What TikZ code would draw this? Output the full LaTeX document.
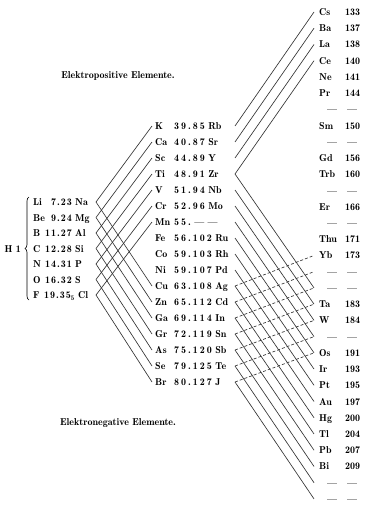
\documentclass[tikz,border=0pt]{standalone}
\usetikzlibrary{decorations.pathreplacing}
\def\spnumA#1{\ifx#1\relax\else#1\kern\spk\relax\expandafter\spnumA\fi}
\newcommand\spnum[2]{\def\spk{#1}\edef\sptmp{#2}\expandafter\spnumA\sptmp\relax\unkern}
\newcommand\dsh{\hspace*{8pt}—}
\newcommand\dshn{\hspace*{2pt}—}
\tikzset{
  el/.style={inner sep=0pt, font=\fontsize{10}{12}\fontseries{b}\selectfont, text height=7pt, text depth=0pt},
  head/.style={inner sep=0pt, font=\fontsize{10}{12}\fontseries{b}\selectfont},
  conn/.style={line width=0.65pt, black!80},
  dconn/.style={conn, dash pattern=on 3pt off 2pt},
}
\begin{document}
\begin{tikzpicture}[x=1pt,y=-1pt]
\useasboundingbox[fill=white] (0,0) rectangle (368,506);

% headings
\node[head] (hpos) at (118,76) {Elektropositive Elemente.};
\node[head] (hneg) at (118,423) {Elektronegative Elemente.};

% left column
\node[el, anchor=east] (H) at (21,248.5) {H\,\,1};
\draw[decorate, decoration={brace, amplitude=4pt}, line width=0.65pt] (29,300) -- (29,197);
\foreach \a/\n/\b [count=\i] in {Li/7.23/Na, Be/9.24/Mg, B/11.27/Al, C/12.28/Si, N/14.31/P, O/16.32/S} {
  \pgfmathsetmacro\yy{202+15.5*(\i-1)}
  \node[el, anchor=west] (La\i) at (33,\yy) {\a};
  \node[el, anchor=east] (Ln\i) at (72,\yy) {\spnum{1pt}{\n}};
  \node[el, anchor=west] (Lb\i) at (75,\yy) {\b};
  \coordinate (Lc\i) at (96,\yy);
}
\node[el, anchor=west] (La7) at (33,295) {F};
\node[el, anchor=east] (Ln7) at (75,295) {\spnum{1pt}{19.35}\textsubscript{5}};
\node[el, anchor=west] (Lb7) at (78,295) {Cl};
\coordinate (Lc7) at (96,295);

% middle column
\foreach \a/\n/\b [count=\j] in {K/39.85/Rb, Ca/40.87/Sr, Sc/44.89/Y, Ti/48.91/Zr, V/51.94/Nb, Cr/52.96/Mo, Mn/55./— —, Fe/56.102/Ru, Co/59.103/Rh, Ni/59.107/Pd, Cu/63.108/Ag, Zn/65.112/Cd, Ga/69.114/In, Gr/72.119/Sn, As/75.120/Sb, Se/79.125/Te, Br/80.127/J} {
  \pgfmathsetmacro\yy{126+16*(\j-1)}
  \node[el, anchor=west] (Ma\j) at (155,\yy) {\a};
  \node[el, anchor=west] (Mn\j) at (174,\yy) {\spnum{2pt}{\n}};
  \node[el, anchor=west] (Mb\j) at ([xshift=3pt]Mn\j.east) {\b};
  \coordinate (Ml\j) at (152,\yy);
  \coordinate (Mr\j) at (235,\yy);
}

% right column
\foreach \s/\v [count=\k] in {Cs/133, Ba/137, La/138, Ce/140, Ne/141, Pr/144, \dsh/\dshn, Sm/150, \dsh/\dshn, Gd/156, Trb/160, \dsh/\dshn, Er/166, \dsh/\dshn, Thu/171, Yb/173, \dsh/\dshn, \dsh/\dshn, Ta/183, W/184, \dsh/\dshn, Os/191, Ir/193, Pt/195, Au/197, Hg/200, Tl/204, Pb/207, Bi/209, \dsh/\dshn, \dsh/\dshn} {
  \pgfmathsetmacro\yy{12+16.23*(\k-1)}
  \node[el, anchor=west] (Rs\k) at (319,\yy) {\s};
  \node[el, anchor=west] (Rv\k) at (345,\yy) {\v};
  \coordinate (Rc\k) at (314,\yy);
}

% connectors: left -> middle
\foreach \i in {1,...,7} {
  \pgfmathtruncatemacro\dn{\i+10}
  \draw[conn] (Lc\i) -- (Ml\i);
  \draw[conn] (Lc\i) -- (Ml\dn);
}
% middle -> right
\foreach \j in {1,...,4} { \draw[conn] (Mr\j) -- (Rc\j); }
\foreach \j in {4,...,17} {
  \pgfmathtruncatemacro\t{\j+14}
  \draw[conn] (Mr\j) -- (Rc\t);
}
\foreach \j in {11,...,17} {
  \pgfmathtruncatemacro\t{\j+5}
  \draw[dconn] (Mr\j) -- (Rc\t);
}
\end{tikzpicture}
\end{document}
